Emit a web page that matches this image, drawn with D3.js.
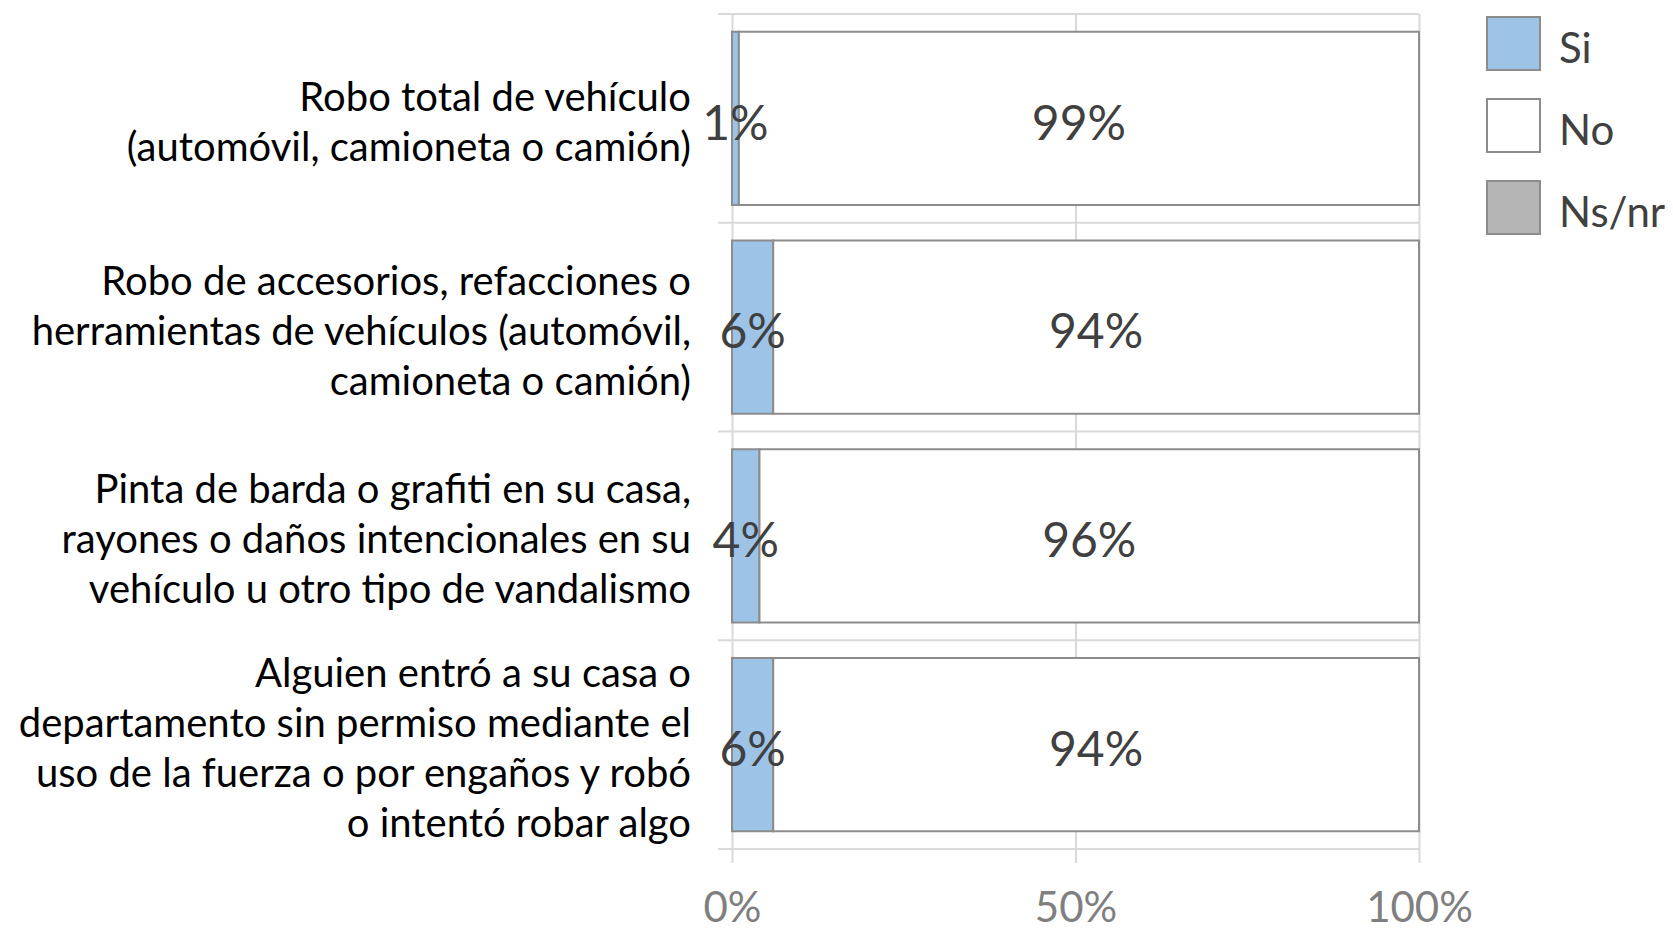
<!DOCTYPE html>
<html>
<head>
<meta charset="utf-8">
<script src="https://cdn.jsdelivr.net/npm/d3@7"></script>
<style>
  html, body { margin: 0; padding: 0; background: #ffffff; }
  svg { display: block; }
  text { font-family: Lato, "Open Sans", sans-serif; }
</style>
</head>
<body>
<svg id="chart" width="1673" height="931"></svg>
<script>
// Categories (each entry is a list of wrapped lines)
const categories = [
  ["Robo total de vehículo", "(automóvil, camioneta o camión)"],
  ["Robo de accesorios, refacciones o", "herramientas de vehículos (automóvil,", "camioneta o camión)"],
  ["Pinta de barda o grafiti en su casa,", "rayones o daños intencionales en su", "vehículo u otro tipo de vandalismo"],
  ["Alguien entró a su casa o", "departamento sin permiso mediante el", "uso de la fuerza o por engaños y robó", "o intentó robar algo"]
];
const seriesNames = ["Si", "No", "Ns/nr"];
const siValues = [1, 6, 4, 6];
const noValues = [99, 94, 96, 94];
const nsnrValues = [0, 0, 0, 0];
const tickValues = [0, 50, 100];
const tickLabels = ["0%", "50%", "100%"];

const colors = { "Si": "#9dc3e6", "No": "#ffffff", "Ns/nr": "#b4b4b4" };

const svg = d3.select("#chart");
const plot = { left: 732, right: 1419, top: 14, bottom: 849 };

const x = d3.scaleLinear().domain([0, 100]).range([plot.left, plot.right]);
const y = d3.scaleBand()
  .domain(d3.range(categories.length))
  .range([plot.top, plot.bottom])
  .paddingInner(0.17)
  .paddingOuter(0.085);

const step = y.step();

// Horizontal separators between categories (with small ticks to the left)
const sepYs = d3.range(categories.length + 1).map(i => plot.top + i * step);
svg.append("g").selectAll("line").data(sepYs).join("line")
  .attr("x1", plot.left - 14).attr("x2", plot.right)
  .attr("y1", d => d).attr("y2", d => d)
  .attr("stroke", "#d9d9d9").attr("stroke-width", 2);

// Vertical gridlines with ticks below the plot
const xAxis = d3.axisBottom(x)
  .tickValues(tickValues)
  .tickFormat((d, i) => tickLabels[i])
  .tickSize(-(plot.bottom - plot.top) - 14)
  .tickPadding(0);
const gx = svg.append("g")
  .attr("transform", `translate(0,${plot.bottom + 14})`)
  .call(xAxis);
gx.select(".domain").remove();
gx.selectAll(".tick line").attr("stroke", "#d9d9d9").attr("stroke-width", 2);
gx.selectAll(".tick text")
  .attr("y", 44)
  .attr("dy", "0.35em")
  .attr("fill", "#7f7f7f")
  .style("font-size", "42px");

// Stacked rows
const rows = categories.map((c, i) => {
  const vals = [siValues[i], noValues[i], nsnrValues[i]];
  let acc = 0;
  return vals.map((v, k) => {
    const seg = { row: i, key: seriesNames[k], x0: acc, x1: acc + v, v };
    acc += v;
    return seg;
  });
});
const segs = rows.flat().filter(s => s.v > 0);

svg.append("g").selectAll("rect").data(segs).join("rect")
  .attr("x", d => x(d.x0))
  .attr("y", d => y(d.row))
  .attr("width", d => x(d.x1) - x(d.x0))
  .attr("height", y.bandwidth())
  .attr("fill", d => colors[d.key])
  .attr("stroke", "#8c8c8c")
  .attr("stroke-width", 2);

// Value labels centred on each segment
svg.append("g").selectAll("text").data(segs).join("text")
  .attr("x", d => (x(d.x0) + x(d.x1)) / 2)
  .attr("y", d => y(d.row) + y.bandwidth() / 2 + 4)
  .attr("dy", "0.36em")
  .attr("text-anchor", "middle")
  .attr("fill", "#404040")
  .style("font-size", "48px")
  .text(d => d.v + "%");

// Category labels, right-aligned to the left of the plot
const lineH = 50;
const catG = svg.append("g");
categories.forEach((lines, i) => {
  const cy = plot.top + i * step + step / 2 + 3;
  const t = catG.append("text")
    .attr("text-anchor", "end")
    .attr("fill", "#000000")
    .style("font-size", "40px");
  lines.forEach((ln, j) => {
    t.append("tspan")
      .attr("x", 691)
      .attr("y", cy + (j - (lines.length - 1) / 2) * lineH)
      .attr("dy", "0.36em")
      .text(ln);
  });
});

// Legend
const legend = svg.append("g").attr("transform", "translate(1487,17)");
const li = legend.selectAll("g").data(seriesNames).join("g")
  .attr("transform", (d, i) => `translate(0,${i * 82})`);
li.append("rect")
  .attr("width", 53).attr("height", 53)
  .attr("fill", d => colors[d])
  .attr("stroke", "#8c8c8c").attr("stroke-width", 2);
li.append("text")
  .attr("x", 72).attr("y", 31)
  .attr("dy", "0.36em")
  .attr("fill", "#404040")
  .style("font-size", "42px")
  .text(d => d);
</script>
</body>
</html>
